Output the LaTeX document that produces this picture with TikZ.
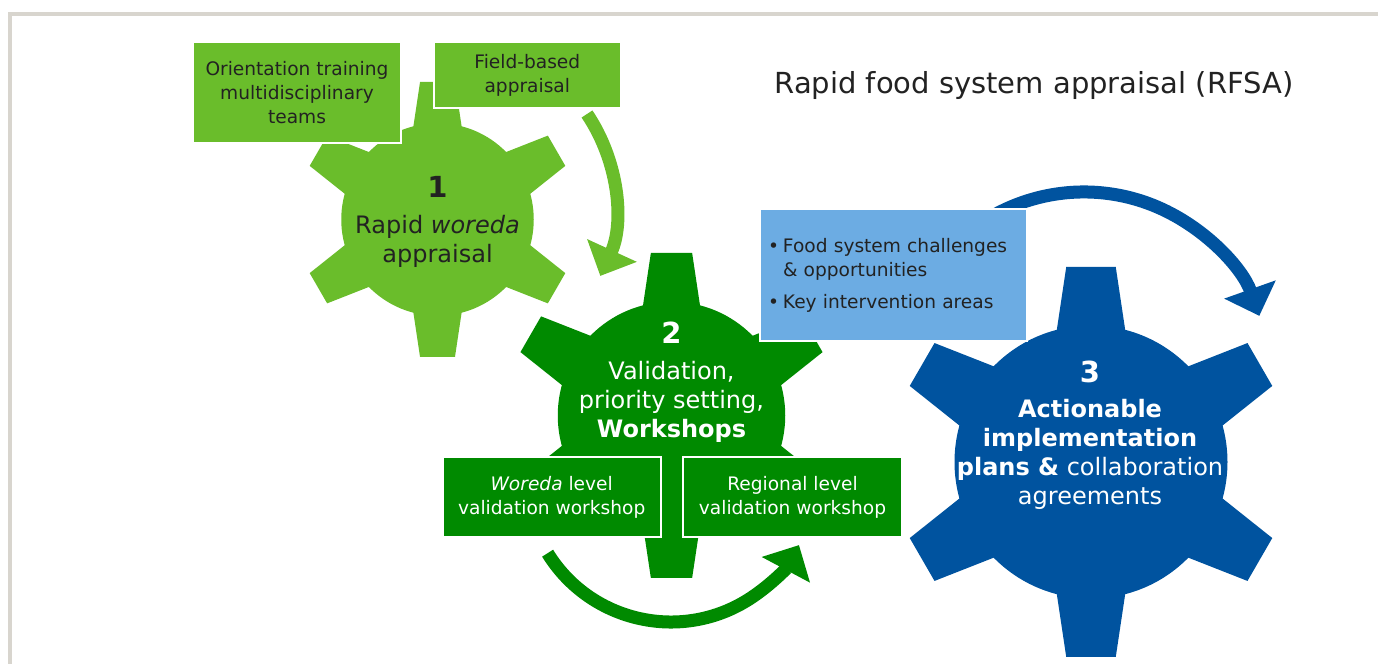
\documentclass[tikz,border=0pt]{standalone}
\usepackage{fontspec}
\setmainfont{DejaVu Sans}
\usetikzlibrary{arrows.meta,positioning}

\definecolor{lightgreen}{HTML}{6ABD2B}
\definecolor{darkgreen}{HTML}{008A00}
\definecolor{cogblue}{HTML}{00539F}
\definecolor{skyblue}{HTML}{6CACE3}
\definecolor{framegray}{HTML}{D8D5CE}
\definecolor{inkgray}{HTML}{222222}

% cog wheel: centre, outer radius, colour
\newcommand{\cogwheel}[3]{%
  \fill[#3] #1 circle[radius=0.7*#2];
  \foreach \a in {30,90,...,330}
    \fill[#3,shift={#1},rotate=\a] (0.5*#2,-0.202*#2) -- (#2,-0.127*#2)
      -- (#2,0.127*#2) -- (0.5*#2,0.202*#2) -- cycle;}

\begin{document}
\begin{tikzpicture}[x=0.5pt,y=0.5pt,
  every node/.style={font=\fontsize{9.3}{12}\selectfont,text=inkgray},
  box/.style={draw=white,line width=1pt,align=center,inner sep=0pt},
  cyclearrow/.style={line width=6.5pt,-{Triangle[length=14pt,width=26.5pt]}},
  cogtext/.style={font=\fontsize{12}{14.5}\selectfont,align=center},
  cognum/.style={font=\fontsize{14.5}{17}\selectfont\bfseries}]
  \useasboundingbox (0,0) rectangle (1378,664);
  \draw[framegray,line width=2pt] (10,0) -- (10,650) -- (1378,650);

  \cogwheel{(437.5,444.5)}{137.5}{lightgreen}
  \cogwheel{(671.5,248.5)}{162.5}{darkgreen}
  \cogwheel{(1091,202)}{195}{cogblue}

  % arrows round the cogs
  \coordinate (fieldstart) at (587,550);
  \coordinate (wsstart) at (547.6,110.8);
  \coordinate (planstart) at (977.3,438.4);
  \draw[cyclearrow,lightgreen] (fieldstart) arc[start angle=34,end angle=-24.6,radius=166];
  \draw[cyclearrow,darkgreen] (wsstart) arc[start angle=-148.3,end angle=-28,radius=145];
  \draw[cyclearrow,cogblue] (planstart) arc[start angle=125,end angle=19.5,radius=186];

  \node[box,fill=lightgreen,minimum width=104pt,minimum height=50.8pt] (orient) at (297,571.5)
    {Orientation training\\multidisciplinary\\teams};
  \node[box,fill=lightgreen,minimum width=93.3pt,minimum height=33.3pt] (field) at (527.3,589)
    {Field-based\\appraisal};
  \node[box,fill=darkgreen,text=white,minimum width=109pt,minimum height=40pt] (woreda) at (551.7,167)
    {\textit{Woreda} level\\validation workshop};
  \node[box,fill=darkgreen,text=white,minimum width=109.5pt,minimum height=40pt] (region) at (792.5,167)
    {Regional level\\validation workshop};
  \node[box,fill=skyblue,minimum width=133.5pt,minimum height=66pt,text width=125.5pt,
    align=left,inner xsep=4pt] (results) at (893.5,389)
    {\makebox[7.5pt][l]{•}Food system challenges\\\hspace*{7.5pt}\& opportunities\\[4pt]
     \makebox[7.5pt][l]{•}Key intervention areas};

  \node[cognum] (num1) at (437.5,477) {1};
  \node[cogtext] (txt1) at (437.5,422.5) {Rapid \textit{woreda}\\appraisal};
  \node[cognum,text=white] (num2) at (671.5,331) {2};
  \node[cogtext,text=white] (txt2) at (671.5,262.5) {Validation,\\priority setting,\\\textbf{Workshops}};
  \node[cognum,text=white] (num3) at (1090,292) {3};
  \node[cogtext,text=white] (txt3) at (1090,209.5)
    {\textbf{Actionable}\\\textbf{implementation}\\\textbf{plans \&} collaboration\\agreements};

  \node[font=\fontsize{14.5}{17}\selectfont] (title) at (1034,578) {Rapid food system appraisal (RFSA)};
\end{tikzpicture}
\end{document}
